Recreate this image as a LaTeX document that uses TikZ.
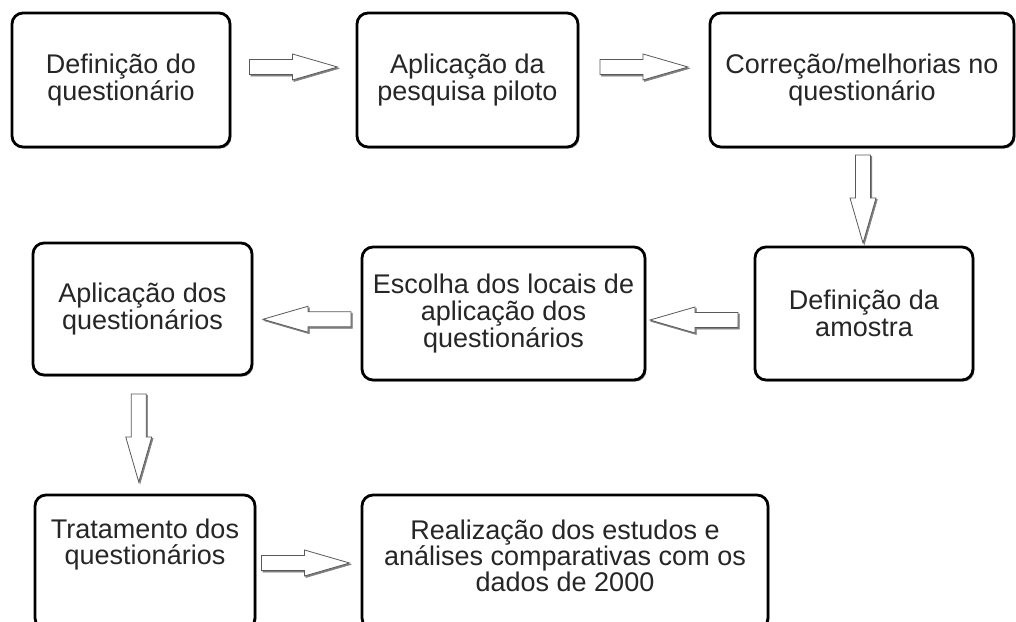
\documentclass[tikz,border=0pt]{standalone}
\usepackage{fontspec}
\setmainfont{Liberation Sans}
\usetikzlibrary{calc,shadows}
\tikzset{
  box/.style={draw=black, line width=2.8pt, rounded corners=11pt, fill=white,
    inner sep=0pt, align=center, text=black!85,
    font=\fontsize{27}{27}\selectfont,
    drop shadow={shadow xshift=1.4pt, shadow yshift=-1.6pt, fill=black!40, opacity=1}},
  txt/.style={inner sep=0pt, align=center, text=black!85, font=\fontsize{27}{26}\selectfont},
  barrow/.pic={\path[pic actions] (-44,-7.5) -- (-1,-7.5) -- (-1,-13) -- (44,0) -- (-1,13) -- (-1,7.5) -- (-44,7.5) -- cycle;},
  arrowshadow/.style={fill=black!50, draw=black!50, line width=0.6pt},
  arrowbody/.style={fill=white, draw=black!65, line width=0.8pt, line join=miter}
}
\newcommand\blockarr[2]{%
  \pic[rotate=#2, arrowshadow] at ([shift={(1.3pt,-1.5pt)}]#1) {barrow};
  \pic[rotate=#2, arrowbody] at (#1) {barrow};}
\begin{document}
\begin{tikzpicture}[x=1pt, y=-1pt]
\useasboundingbox (0,0) rectangle (1016,621);
\fill[white] (0,0) rectangle (1016,621);
% boxes
\node[box, minimum width=218, minimum height=134] (b1) at (121,80) {Definição do\\questionário};
\node[box, minimum width=221, minimum height=134] (b2) at (467.5,80) {Aplicação da\\pesquisa piloto};
\node[box, minimum width=304, minimum height=134] (b3) at (862,80) {Correção/melhorias no\\questionário};
\node[box, minimum width=218, minimum height=133] (b4) at (864,313.5) {Definição da\\amostra};
\node[box, minimum width=283, minimum height=133] (b5) at (503.5,313.5) {Escolha dos locais de\\aplicação dos\\questionários};
\node[box, minimum width=219, minimum height=132] (b6) at (142.5,309) {Aplicação dos\\questionários};
\node[box, minimum width=220, minimum height=134] (b7) at (145,562) {};
\node[txt] (t7) at (145,545) {Tratamento dos\\questionários};
\node[box, minimum width=406, minimum height=134] (b8) at (565,562) {};
\node[txt] (t8) at (565,556) {Realização dos estudos e\\análises comparativas com os\\dados de 2000};
% arrow positions between boxes
\coordinate[yshift=13pt] (a1) at ($(b1.east)!0.5!(b2.west)$);
\coordinate[yshift=13pt] (a2) at ($(b2.east)!0.5!(b3.west)$);
\coordinate[yshift=-2pt] (a3) at ($(b3.south)!0.5!(b4.north)$);
\coordinate[xshift=-6pt, yshift=-6.5pt] (a4) at ($(b4.west)!0.5!(b5.east)$);
\coordinate[yshift=-8pt] (a5) at ($(b5.west)!0.5!(b6.east)$);
\coordinate[xshift=-5pt, yshift=-3pt] (a6) at ($(b6.south)!0.5!(b7.north)$);
\coordinate[xshift=-3pt, yshift=-1pt] (a7) at ($(b7.east)!0.5!(b8.west)$);
% block arrows
\blockarr{a1}{0}
\blockarr{a2}{0}
\blockarr{a3}{-90}
\blockarr{a4}{180}
\blockarr{a5}{180}
\blockarr{a6}{-90}
\blockarr{a7}{0}
\end{tikzpicture}
\end{document}
